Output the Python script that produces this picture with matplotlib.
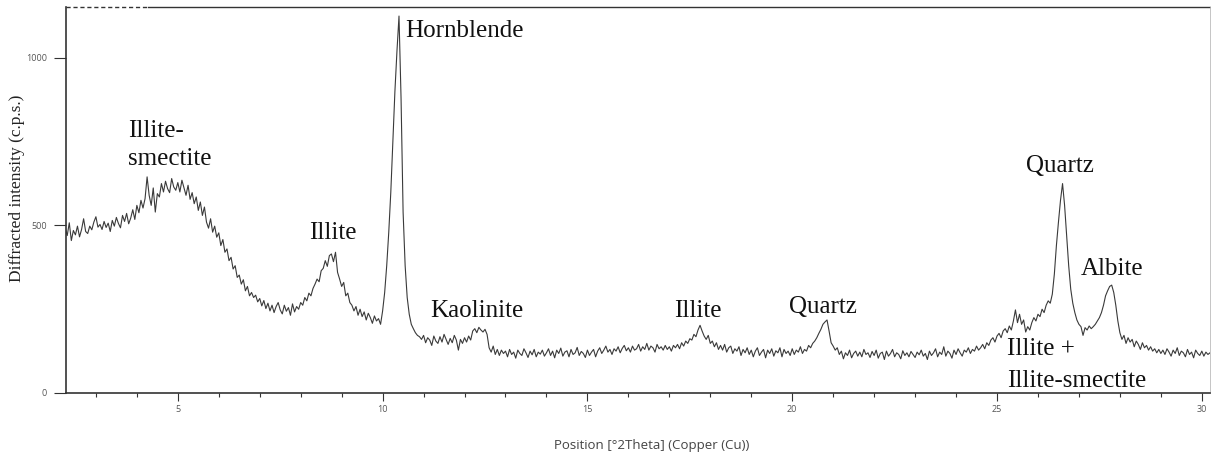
""" XRD pattern of a clay-rich sample, minerals labelled at their peaks
"""
import numpy as np
import matplotlib.pyplot as plt

# scan starts at 2.25 deg 2theta, step 0.05 deg
start_2theta = 2.25
step_2theta = 0.05

# counts (c.p.s.), one row per degree
counts = [
    492, 470, 508, 455, 485, 472, 498, 466, 488, 520, 482, 476, 498, 487, 510,
    526, 495, 503, 488, 512, 494, 507, 482, 515, 498, 524, 506, 493, 530, 512, 536, 505, 522, 547, 518,
    560, 538, 575, 552, 580, 645, 590, 560, 612, 540, 595, 585, 625, 600, 632, 610, 598, 640, 615, 605,
    628, 600, 635, 612, 590, 620, 578, 598, 565, 585, 545, 570, 530, 555, 510, 492, 520, 480, 498, 465,
    478, 440, 458, 420, 430, 395, 405, 370, 380, 345, 352, 325, 338, 305, 318, 290, 300, 285, 292, 272,
    282, 260, 276, 252, 268, 245, 262, 240, 258, 270, 248, 236, 262, 244, 255, 232, 266, 242, 258, 250,
    270, 262, 285, 275, 298, 290, 312, 325, 340, 332, 365, 372, 395, 378, 410, 415, 392, 420, 360, 340,
    318, 330, 290, 298, 270, 262, 245, 258, 232, 250, 228, 242, 218, 238, 225, 208, 230, 215, 222, 205,
    245, 300, 380, 480, 600, 750, 900, 1020, 1125, 880, 540, 380, 285, 235, 205, 192, 180, 172, 168, 160,
    172, 150, 165, 158, 142, 170, 155, 148, 168, 152, 175, 160, 145, 163, 150, 172, 158, 128, 160, 148,
    165, 152, 170, 158, 185, 192, 180, 196, 188, 182, 190, 175, 135, 122, 140, 115, 130, 112, 128, 118,
    125, 108, 130, 115, 122, 104, 128, 118, 112, 132, 120, 106, 125, 114, 130, 108, 122, 116, 128, 110,
    120, 132, 112, 125, 105, 128, 118, 134, 110, 122, 126, 108, 130, 115, 120, 136, 112, 124, 118, 106,
    128, 112, 122, 130, 108, 125, 135, 118, 128, 140, 122, 130, 115, 132, 125, 138, 120, 133, 142, 126,
    135, 122, 140, 128, 132, 145, 125, 138, 130, 148, 128, 140, 135, 122, 145, 132, 138, 128, 142, 130,
    138, 125, 142, 135, 145, 132, 150, 140, 155, 148, 162, 158, 175, 168, 188, 202, 185, 170, 160, 172,
    148, 155, 138, 150, 130, 142, 128, 145, 122, 135, 140, 118, 132, 125, 138, 112, 130, 120, 135, 115,
    128, 108, 125, 135, 112, 122, 130, 105, 128, 118, 132, 110, 126, 120, 135, 108, 130, 118, 125, 112,
    132, 115, 128, 122, 138, 118, 130, 125, 142, 135, 148, 155, 165, 178, 190, 205, 212, 218, 185, 150,
    140, 128, 135, 115, 125, 102, 120, 112, 128, 105, 118, 125, 110, 122, 108, 130, 115, 120, 106, 124,
    112, 128, 104, 118, 122, 100, 125, 110, 118, 130, 108, 120, 115, 102, 126, 112, 120, 108, 124, 115,
    106, 122, 114, 128, 110, 118, 100, 125, 112, 120, 132, 108, 122, 115, 138, 110, 125, 118, 104, 128,
    115, 132, 120, 110, 128, 122, 135, 118, 130, 125, 140, 128, 135, 145, 132, 150, 142, 158, 165, 152,
    170, 178, 165, 185, 192, 180, 200, 188, 215, 248, 210, 235, 205, 218, 182, 198, 188, 210, 225, 215,
    235, 228, 250, 240, 262, 275, 268, 295, 355, 440, 510, 575, 625, 560, 470, 380, 310, 268, 240, 218,
    205, 198, 172, 195, 188, 200, 192, 198, 205, 215, 225, 240, 262, 290, 305, 318, 322, 300, 262, 215,
    180, 160, 172, 148, 165, 152, 160, 138, 155, 145, 130, 150, 135, 142, 128, 138, 125, 132, 120, 130,
    118, 128, 115, 132, 122, 110, 128, 118, 135, 112, 125, 120, 108, 130, 115, 122, 105, 128, 118, 112,
    125, 110, 122, 115, 120,
]
two_theta = start_2theta + step_2theta * np.arange(len(counts))

# mineral labels: (text, 2theta of left edge, baseline in c.p.s.)
labels = [
    ("Illite-", 3.78, 764),
    ("smectite", 3.78, 681),
    ("Illite", 8.20, 460),
    ("Hornblende", 10.56, 1063),
    ("Kaolinite", 11.15, 227),
    ("Illite", 17.12, 227),
    ("Quartz", 19.93, 239),
    ("Quartz", 25.71, 660),
    ("Albite", 27.05, 352),
    ("Illite +", 25.25, 113),
    ("Illite-smectite", 25.25, 18),
]

fig = plt.figure(figsize=(12.11, 4.57), dpi=100)
ax = fig.add_axes([66 / 1211, 64 / 457, 1144 / 1211, 386 / 457])

ax.plot(two_theta, counts, color="#3a3a3a", lw=0.8)

ax.set_xlim(2.27, 30.2)
ax.set_ylim(0, 1152)

ax.set_xticks(range(5, 31, 5))
ax.set_xticks(range(3, 31), minor=True)
ax.set_yticks([0, 500, 1000])

tick_font = {"fontsize": 6.5, "fontfamily": "Open Sans", "color": "#555555"}
ax.set_xticklabels([str(v) for v in range(5, 31, 5)], fontdict=tick_font)
ax.set_yticklabels(["0", "500", "1000"], fontdict=tick_font)
ax.tick_params(axis="x", which="major", length=6, width=0.8, color="#333333", pad=3)
ax.tick_params(axis="x", which="minor", length=3, width=0.8, color="#333333")
ax.tick_params(axis="y", which="major", length=8.6, width=0.8, color="#333333", pad=5)

# frame: heavy left/bottom, faint right, top partly dashed
for side in ("left", "bottom"):
    ax.spines[side].set_color("#333333")
    ax.spines[side].set_linewidth(1.2)
ax.spines["right"].set_color("#bbbbbb")
ax.spines["right"].set_linewidth(0.6)
ax.spines["top"].set_visible(False)
ax.plot([0, 0.072], [1, 1], transform=ax.transAxes, color="#333333",
        lw=1.0, ls=(0, (3, 2)), clip_on=False)
ax.plot([0.072, 1], [1, 1], transform=ax.transAxes, color="#333333",
        lw=1.0, clip_on=False)

for text, x_, y_ in labels:
    ax.text(x_, y_, text, fontsize=18, fontfamily="Liberation Serif",
            color="#111111", ha="left", va="baseline")

fig.text(17 / 1211, 1 - 188 / 457, "Diffracted intensity (c.p.s.)",
         rotation=90, ha="center", va="center", fontsize=12.5,
         fontfamily="Liberation Serif", color="#222222")
fig.text(652 / 1211, 1 - 445 / 457, "Position [°2Theta] (Copper (Cu))",
         ha="center", va="center", fontsize=9.5, fontfamily="Open Sans",
         color="#444444")

fig.savefig("out.png", dpi=100)
